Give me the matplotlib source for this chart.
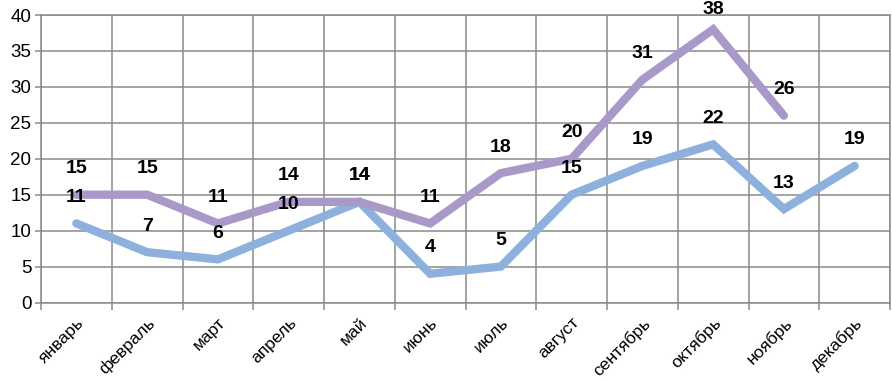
import numpy as np
import matplotlib.pyplot as plt

plt.rcParams['font.family'] = ['Liberation Sans', 'DejaVu Sans']

# данные
months = ['январь', 'февраль', 'март', 'апрель', 'май', 'июнь',
          'июль', 'август', 'сентябрь', 'октябрь', 'ноябрь', 'декабрь']
series_purple = [15, 15, 11, 14, 14, 11, 18, 20, 31, 38, 26]
series_blue = [11, 7, 6, 10, 14, 4, 5, 15, 19, 22, 13, 19]

col_purple = '#A899C9'
col_blue = '#8DB0DD'
grid_col = '#8a8a8a'

fig = plt.figure(figsize=(8.92, 3.80), dpi=100, facecolor='white')
ax = fig.add_axes([41 / 892, 1 - 302.5 / 380, 849 / 892, 287.5 / 380])

ax.set_xlim(-0.5, len(months) - 0.5)
ax.set_ylim(0, 40)

x_b = np.arange(len(series_blue))
x_p = np.arange(len(series_purple))
ax.plot(x_b, series_blue, color=col_blue, lw=6, solid_capstyle='round', solid_joinstyle='miter', zorder=3)
ax.plot(x_p, series_purple, color=col_purple, lw=6, solid_capstyle='round', solid_joinstyle='miter', zorder=4)

# подписи данных, не выходя за верх рисунка
def label(xs, vals):
    for xi, v in zip(xs, vals):
        py = ax.transData.transform((xi, v))[1]  # px from bottom
        top_room = (380 - py) - 10  # px to keep centre inside
        off = min(26, top_room) * 72 / 100
        ax.annotate(str(v), (xi, v), xytext=(0, off), textcoords='offset points',
                    ha='center', va='center', fontsize=14, fontweight='bold',
                    zorder=5, annotation_clip=False)

label(x_b, series_blue)
label(x_p, series_purple)

ax.set_yticks(np.arange(0, 41, 5))
ax.tick_params(axis='y', length=4, width=1.1, color=grid_col, labelsize=13.5, pad=3)

# сетка по границам категорий
ax.set_xticks(np.arange(-0.5, len(months), 1))
ax.set_xticklabels([])
ax.tick_params(axis='x', length=5, width=1.1, color=grid_col)
ax.set_xticks(np.arange(len(months)), minor=True)
ax.set_xticklabels(months, minor=True, rotation=45, ha='right', rotation_mode='anchor', fontsize=12.5)
ax.tick_params(axis='x', which='minor', length=0, pad=9)

ax.grid(True, which='major', color=grid_col, lw=1.1)
ax.set_axisbelow(True)
for s in ax.spines.values():
    s.set_color(grid_col)
    s.set_linewidth(1.1)

fig.savefig('out.png', dpi=100, facecolor='white')
